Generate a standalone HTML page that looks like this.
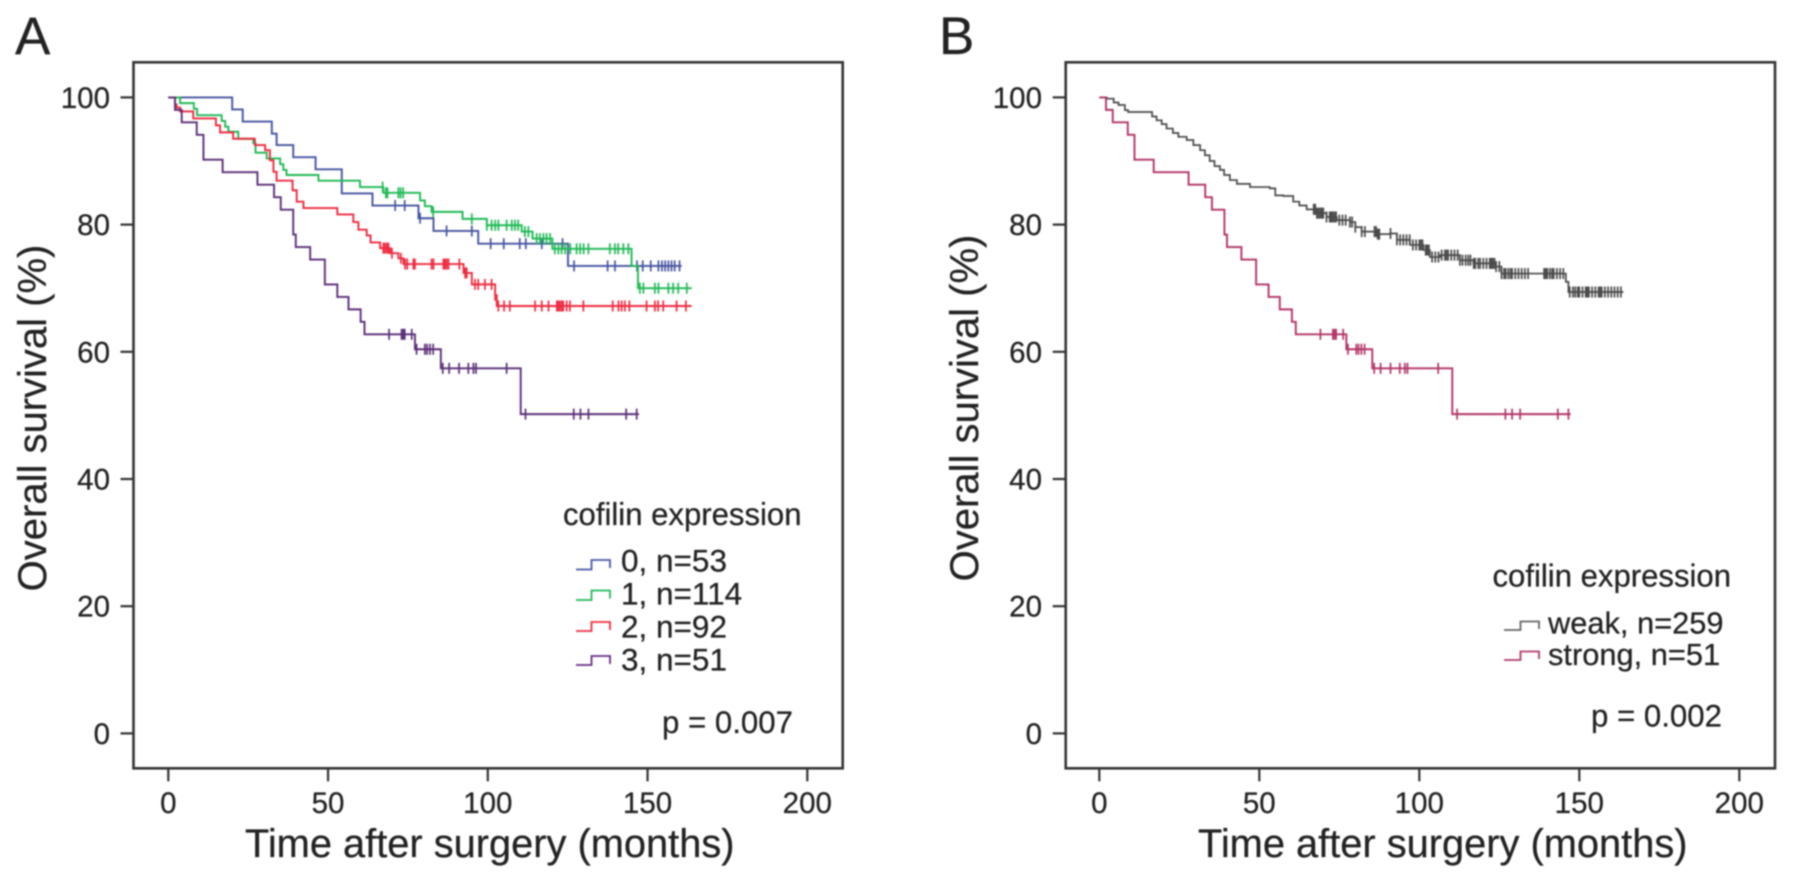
<!DOCTYPE html>
<html lang="en">
<head>
<meta charset="utf-8">
<title>Overall survival by cofilin expression</title>
<style>
html,body{margin:0;padding:0;background:#fff;width:1795px;height:883px;overflow:hidden}
svg{display:block}
text{font-family:"Liberation Sans",Arial,sans-serif;fill:#222;stroke:#222;stroke-width:.25px}
#art{filter:blur(.7px)}
</style>
</head>
<body>
<svg id="chart" xmlns="http://www.w3.org/2000/svg" width="1795" height="883" viewBox="0 0 1795 883">
<g id="art">
  <rect x="0" y="0" width="1795" height="883" fill="#fff"/>
  <text x="15" y="54" font-size="53">A</text>
  <text x="939" y="54" font-size="53">B</text>

  <g id="panelA">
    <rect x="133.5" y="62.3" width="709.2" height="706" fill="none" stroke="#333" stroke-width="2.6"/>
    <text x="245" y="857" font-size="39.8">Time after surgery (months)</text>
    <text transform="translate(46 418) rotate(-90)" text-anchor="middle" font-size="40">Overall survival (%)</text>
    <g>
      <text x="563" y="525" font-size="31.1">cofilin expression</text>
      <path d="M576 569.5H591.5V560H610V568" fill="none" stroke="#4a58a8" stroke-width="1.8"/>
      <path d="M576 600H591.5V590.5H610V598.5" fill="none" stroke="#22b85c" stroke-width="1.8"/>
      <path d="M576 631H591.5V622H610V630" fill="none" stroke="#ee2d43" stroke-width="1.8"/>
      <path d="M576 665H591.5V656H610V664" fill="none" stroke="#652f86" stroke-width="1.8"/>
      <text x="621" y="571.5" font-size="31.5">0, n=53</text>
      <text x="621" y="604.5" font-size="31.5">1, n=114</text>
      <text x="621" y="637.5" font-size="31.5">2, n=92</text>
      <text x="621" y="670.5" font-size="31.5">3, n=51</text>
    </g>
    <text x="662" y="733" font-size="31.2">p = 0.007</text>
  </g>

  <g id="panelB">
    <rect x="1065.7" y="62.3" width="709.3" height="706" fill="none" stroke="#333" stroke-width="2.6"/>
    <text x="1198" y="857" font-size="39.8">Time after surgery (months)</text>
    <text transform="translate(978 408) rotate(-90)" text-anchor="middle" font-size="40">Overall survival (%)</text>
    <g>
      <text x="1492.5" y="586.5" font-size="31.1">cofilin expression</text>
      <path d="M1504 630H1520.5V621.5H1539V629" fill="none" stroke="#666" stroke-width="1.8"/>
      <path d="M1504 660H1520.5V651.5H1539V659" fill="none" stroke="#b03a6e" stroke-width="1.8"/>
      <text x="1548" y="633.5" font-size="30.8">weak, n=259</text>
      <text x="1548" y="665" font-size="30.8">strong, n=51</text>
    </g>
    <text x="1591" y="726.5" font-size="31.2">p = 0.002</text>
  </g>
</g>
</svg>
<script>
var xTickLabels = [0, 50, 100, 150, 200];
var yTickLabels = [0, 20, 40, 60, 80, 100];

var group0Times = [0, 20.0, 23.3, 32.4, 33.9, 39.1, 46.1, 54.3, 63.9, 78.3, 83.0, 97.0, 125.1, 160.7];
var group0Survival = [100, 98.1, 96.2, 94.3, 92.5, 90.6, 88.7, 84.9, 83.0, 81.0, 79.0, 77.0, 73.5, 73.5];
var group0Censored = [71, 74, 78.8, 87.1, 95, 100.9, 105, 110, 111.9, 116.9, 123.4, 127, 137.5, 139.8, 146.7, 148.5, 151, 153.4, 154.5, 155.5, 156.5, 157.5, 158.5, 160];

var group1Times = [0, 3.7, 8.0, 9.0, 16.7, 17.8, 18.8, 21.9, 26.6, 27.3, 30.8, 35, 36, 37, 47, 60, 67.3, 78.8, 80.3, 82.4, 92.1, 99.7, 110.6, 114, 120.2, 145, 147, 163.8];
var group1Survival = [100, 99.1, 98.2, 97.2, 96.3, 95.4, 94.6, 93.5, 92.8, 91.3, 90.4, 89.5, 88.6, 87.8, 86.9, 85.9, 85.0, 83.8, 82.9, 82, 80.9, 79.9, 78.9, 77.8, 76.2, 73.5, 70, 70];
var group1Censored = [67.1, 68.1, 68.6, 72, 72.7, 73.5, 82.9, 95, 99.7, 101.2, 102.3, 103.3, 105.9, 107.5, 108.5, 109.5, 111.6, 112.7, 115.3, 116.3, 117.4, 118.4, 119.5, 121, 122.1, 123.1, 124.2, 125.8, 127.8, 128.9, 130, 131.5, 138.2, 139.8, 140.8, 142.4, 144, 147.6, 148.7, 152.3, 153.4, 156.5, 158, 159.6, 162.3];

var group2Times = [0, 2.1, 2.6, 3.7, 7.8, 14.9, 16.2, 20.3, 27.1, 30.3, 31.8, 32.9, 33.9, 38.9, 40.2, 42.3, 52.9, 57.9, 59.5, 62.1, 63.3, 66.3, 69.4, 72, 73.6, 92.4, 95, 102.3, 102.8, 163.8];
var group2Survival = [100, 98.9, 98.4, 97.8, 96.7, 95.6, 94.5, 93.5, 92.5, 91.7, 90.1, 88.3, 86.9, 85.4, 83.6, 82.6, 81.6, 80.4, 79.2, 78.3, 77.2, 76.3, 75.5, 74.7, 73.8, 72.4, 70.6, 68.9, 67.2, 67.2];
var group2Censored = [67.3, 67.8, 68.4, 68.9, 70, 72.8, 74.1, 74.8, 76.7, 77.2, 82.4, 83, 86.1, 86.6, 87.1, 87.7, 91.1, 92.9, 93.4, 96, 97, 99.1, 101.2, 102.3, 103.3, 105.1, 106.9, 114.8, 116.9, 119, 121.6, 122.1, 122.6, 123.2, 123.6, 124.7, 125.7, 129.9, 139.1, 140.9, 141.9, 142.9, 144.3, 149.7, 152.3, 153.3, 154.9, 159.1, 162];

var strongTimes = [0, 2.1, 4.2, 8.9, 11.0, 17.0, 27.9, 33.1, 35.2, 39.1, 39.9, 44.4, 49.0, 52.9, 56.4, 60.2, 61.4, 77.2, 85.3, 110.3, 147.3];
var strongSurvival = [100, 98.04, 96.08, 94.12, 90.2, 88.24, 86.27, 84.31, 82.35, 78.43, 76.47, 74.51, 70.59, 68.63, 66.67, 64.71, 62.75, 60.4, 57.4, 50.2, 50.2];
var strongCensored = [69.1, 73, 73.5, 74, 76.2, 77.7, 80.3, 81, 81.9, 82.9, 85.9, 87.9, 91, 93.9, 95.5, 96.3, 105.9, 111.8, 126.9, 129, 131.5, 143.3, 146.6];

var weakTimes = [0, 2.3, 4.5, 6, 8, 9, 14.8, 16.5, 17.9, 19.5, 21, 23, 24.7, 27.3, 29.4, 31.5, 33, 34.5, 36, 37.7, 39, 40.8, 43, 47.1, 53.3, 55, 57.5, 60.6, 62.5, 64.8, 68, 71, 74.2, 78.3, 80, 82, 86.7, 90.9, 93, 97.1, 101.3, 103.3, 106.5, 112.7, 116.9, 124, 125.7, 145, 145.8, 146.6, 163.8];
var weakSurvival = [100, 99.8, 99.2, 98.8, 98, 97.7, 97.7, 97, 96.4, 95.8, 95.1, 94.4, 93.8, 93.3, 92.5, 91.7, 90.9, 90, 89.2, 88.6, 87.8, 87, 86.4, 85.9, 85.7, 84.6, 84.5, 83.6, 83, 82.4, 81.8, 81.2, 80.7, 80.4, 79.6, 78.9, 78.5, 78.6, 77.6, 76.8, 76, 74.9, 75.2, 74.4, 73.9, 73.4, 72.3, 72.3, 71, 69.4, 69.4];
var weakCensored = [67, 67.5, 68, 68.5, 69, 69.5, 70, 71, 72, 72.5, 73, 73.5, 74, 75, 76, 77, 78.3, 79, 80, 82, 83, 86, 86.5, 87, 87.5, 91, 93, 94, 95, 96, 97, 98, 99, 100, 100.5, 101, 102, 102.5, 103, 104, 105, 106, 107, 108, 108.5, 109, 110, 111, 112, 112.7, 113.5, 114.5, 115.3, 116, 117, 117.5, 118.4, 119, 120, 121, 122, 122.5, 123, 123.5, 124, 125, 125.7, 126.5, 127, 127.8, 128.5, 129, 130, 131, 132, 133, 134, 139, 139.5, 140, 140.8, 141.5, 142, 143, 144, 145, 147, 148, 148.7, 149.5, 150, 151, 152, 152.5, 153, 154, 155, 156, 156.5, 157, 158, 159, 160, 161, 162, 163];

var NS = 'http://www.w3.org/2000/svg';
function yScale(v) { return 733.4 - v * 6.36; }
function make(tag, parent, attrs) {
  var el = document.createElementNS(NS, tag);
  for (var k in attrs) { el.setAttribute(k, attrs[k]); }
  parent.appendChild(el);
  return el;
}
function drawAxes(parent, prefix, axisLeft, axisBottom, x0, xStep, labelRight) {
  xTickLabels.forEach(function (t) {
    var x = x0 + t * xStep;
    var tick = make('line', parent, { x1: x, x2: x, y1: axisBottom, y2: axisBottom + 13, stroke: '#333', 'stroke-width': 2.2 });
    
    
    var lab = make('text', parent, { x: x, y: 813, 'text-anchor': 'middle', 'font-size': 29.5 });
    lab.textContent = t;
    
    
  });
  yTickLabels.forEach(function (v) {
    var y = yScale(v);
    var tick = make('line', parent, { x1: axisLeft - 13, x2: axisLeft, y1: y, y2: y, stroke: '#333', 'stroke-width': 2.2 });
    
    
    var lab = make('text', parent, { x: labelRight, y: y + 10.5, 'text-anchor': 'end', 'font-size': 29.5 });
    lab.textContent = v;
    
    
  });
}
function survivalAt(times, values, t) {
  var s = values[0];
  for (var i = 0; i < times.length; i++) { if (times[i] <= t) { s = values[i]; } }
  return s;
}
function drawCurve(parent, name, x0, xStep, times, values, censored, color, width) {
  var d = 'M' + x0 + ' ' + yScale(values[0]);
  for (var i = 1; i < times.length; i++) {
    d += 'H' + (x0 + times[i] * xStep).toFixed(2) + 'V' + yScale(values[i]).toFixed(2);
  }
  var line = make('path', parent, { d: d, fill: 'none', stroke: color, 'stroke-width': width });
  
  
  censored.forEach(function (t) {
    var x = x0 + t * xStep;
    var y = yScale(survivalAt(times, values, t));
    var m = make('line', parent, { x1: x, x2: x, y1: y - 5.5, y2: y + 5.5, stroke: color, 'stroke-width': 1.7 });
    
    
  });
}
var panelA = document.getElementById('panelA');
var panelB = document.getElementById('panelB');
drawAxes(panelA, 'panel-a', 133.5, 768.3, 168.3, 3.195, 110);
drawAxes(panelB, 'panel-b', 1065.7, 768.3, 1099.3, 3.2, 1042);
drawCurve(panelA, 'group-0', 168.3, 3.195, group0Times, group0Survival, group0Censored, '#46549f', 1.9);
drawCurve(panelA, 'group-1', 168.3, 3.195, group1Times, group1Survival, group1Censored, '#1fb955', 1.9);
drawCurve(panelA, 'group-2', 168.3, 3.195, group2Times, group2Survival, group2Censored, '#ee2a40', 1.9);
drawCurve(panelA, 'group-3', 168.3, 3.195, strongTimes, strongSurvival, strongCensored, '#5a2f78', 1.9);
drawCurve(panelB, 'weak', 1099.3, 3.2, weakTimes, weakSurvival, weakCensored, '#4a4a4a', 1.7);
drawCurve(panelB, 'strong', 1099.3, 3.2, strongTimes, strongSurvival, strongCensored, '#b23468', 1.9);
</script>
</body>
</html>
